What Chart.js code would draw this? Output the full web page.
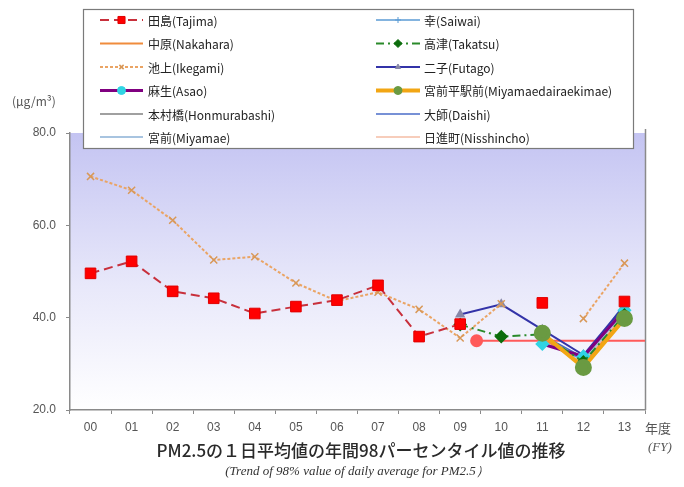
<!DOCTYPE html>
<html>
<head>
<meta charset="utf-8">
<script src="https://cdn.jsdelivr.net/npm/chart.js@4/dist/chart.umd.min.js"></script>
<style>
html,body{margin:0;padding:0;background:#fff}
canvas{display:block}
</style>
</head>
<body>
<canvas id="c" width="684" height="487"></canvas>
<script>
// Fiscal years (2000 - 2013)
const fiscalYears = ['00','01','02','03','04','05','06','07','08','09','10','11','12','13'];

// 98th percentile of daily PM2.5 average, µg/m3 (null = no measurement)
const tajima        = [49.6, 52.2, 45.7, 44.2, 40.9, 42.4, 43.8, 47.0, 35.9, 38.6, null, 43.2, null, 43.5];
const ikegami       = [70.6, 67.6, 61.1, 52.5, 53.2, 47.5, 43.6, 45.5, 41.8, 35.6, 43.0, null, 39.8, 51.8];
const futago        = [null, null, null, null, null, null, null, null, null, 40.7, 42.9, 37.4, 31.9, 42.6];
const takatsu       = [null, null, null, null, null, null, null, null, null, 38.5, 35.9, 36.4, 30.4, 40.6];
const miyamaedaira  = [null, null, null, null, null, null, null, null, null, null, null, 36.6, 29.2, 39.8];
const asao          = [null, null, null, null, null, null, null, null, null, null, null, 34.3, 31.6, 41.6];
const saiwai        = [null, null, null, null, null, null, null, null, null, null, null, 34.6, 31.0, 43.0];
const nakahara      = [null, null, null, null, null, null, null, null, null, null, null, 35.6, 29.8, 40.4];
const honmurabashi  = [null, null, null, null, null, null, null, null, null, null, null, 36.0, 31.2, 42.0];
const daishi        = [null, null, null, null, null, null, null, null, null, null, null, 36.2, 31.4, 42.6];
const miyamae       = [null, null, null, null, null, null, null, null, null, null, null, 35.8, 30.6, 41.4];
const nisshincho    = [null, null, null, null, null, null, null, null, null, null, null, 35.4, 30.2, 41.0];

// Environmental standard (35 µg/m3) and the fiscal-year position where the line begins
const envStandard = 35;
const envStandardFrom = 9.4;
const envStandardTo = 13.5;

// Value axis
const yMin = 20, yMax = 80, yStep = 20;

function series(label, data, style) {
  return Object.assign({
    label, data, xAxisID: 'x', yAxisID: 'y',
    spanGaps: false, fill: false, tension: 0,
    pointRadius: 0, pointHoverRadius: 0
  }, style);
}

const dsTajima = series('田島(Tajima)', tajima, {
  borderColor: '#c8303c', borderWidth: 2, borderDash: [9, 5],
  pointStyle: 'rect', pointRadius: 7.5, pointBackgroundColor: '#ff0000', pointBorderColor: '#e00000', pointBorderWidth: 1,
  legendRadius: 5, order: 0
});
const dsNakahara = series('中原(Nakahara)', nakahara, { borderColor: '#f08c3c', borderWidth: 2, order: 8 });
const dsIkegami = series('池上(Ikegami)', ikegami, {
  borderColor: '#eaa464', borderWidth: 2, borderDash: [3, 2],
  pointStyle: 'crossRot', pointRadius: 5, pointBorderColor: '#d89858', pointBorderWidth: 1.5,
  legendRadius: 3, order: 3
});
const dsAsao = series('麻生(Asao)', asao, {
  borderColor: '#800080', borderWidth: 3,
  pointStyle: 'rectRot', pointRadius: 5, pointBackgroundColor: '#30d4e4', pointBorderColor: '#30d4e4',
  legendStyle: 'circle', legendRadius: 4, order: 4
});
const dsHonmura = series('本村橋(Honmurabashi)', honmurabashi, { borderColor: '#a0a0a0', borderWidth: 2, order: 9 });
const dsMiyamae = series('宮前(Miyamae)', miyamae, { borderColor: '#a8c4e0', borderWidth: 2, order: 10 });
const dsSaiwai = series('幸(Saiwai)', saiwai, {
  borderColor: '#5b9bd5', borderWidth: 1.5,
  pointStyle: 'cross', pointRadius: 4, pointBorderColor: '#5b9bd5', pointBorderWidth: 1,
  legendRadius: 3, order: 6
});
const dsTakatsu = series('高津(Takatsu)', takatsu, {
  borderColor: '#2a8a2a', borderWidth: 2, borderDash: [8, 4, 2, 4],
  pointStyle: 'rectRot', pointRadius: 5.5, pointBackgroundColor: '#0c6c0c', pointBorderColor: '#0c6c0c',
  legendRadius: 4, order: 2
});
const dsFutago = series('二子(Futago)', futago, {
  borderColor: '#3333a8', borderWidth: 2,
  pointStyle: 'triangle', pointRadius: 4, pointBackgroundColor: '#8888a8', pointBorderColor: '#8888a8',
  legendRadius: 3, order: 5
});
const dsMiyamaedaira = series('宮前平駅前(Miyamaedairaekimae)', miyamaedaira, {
  borderColor: '#f2a614', borderWidth: 4,
  pointStyle: 'circle', pointRadius: 6.5, pointBackgroundColor: '#6a9a42', pointBorderColor: '#6a9a42',
  legendRadius: 4, order: 1
});
const dsDaishi = series('大師(Daishi)', daishi, { borderColor: '#4a6cc8', borderWidth: 1.5, order: 7 });
const dsNisshincho = series('日進町(Nisshincho)', nisshincho, { borderColor: '#f4bca4', borderWidth: 1.5, order: 11 });

const dsStandard = {
  label: 'standard',
  data: [{ x: envStandardFrom, y: envStandard }, { x: envStandardTo, y: envStandard }],
  xAxisID: 'x2', yAxisID: 'y',
  borderColor: '#ff5a5a', borderWidth: 2, fill: false,
  pointRadius: [5.5, 0], pointHoverRadius: 0,
  pointBackgroundColor: '#ff5a5a', pointBorderColor: '#ff5a5a',
  order: 12
};

const legendLeft  = [dsTajima, dsNakahara, dsIkegami, dsAsao, dsHonmura, dsMiyamae];
const legendRight = [dsSaiwai, dsTakatsu, dsFutago, dsMiyamaedaira, dsDaishi, dsNisshincho];

const JP = '"Noto Sans CJK JP", "Liberation Sans", sans-serif';
const SERIF = '"Liberation Serif", "DejaVu Serif", serif';

// Gradient background and right border of the plot area
const plotBackground = {
  id: 'plotBackground',
  beforeDraw(chart) {
    const { ctx, chartArea: a } = chart;
    const g = ctx.createLinearGradient(0, a.top, 0, a.bottom);
    g.addColorStop(0, 'rgb(196,196,242)');
    g.addColorStop(0.55, 'rgb(232,232,250)');
    g.addColorStop(1, 'rgb(255,255,255)');
    ctx.save();
    ctx.fillStyle = g;
    ctx.fillRect(a.left, a.top, a.right - a.left, a.bottom - a.top);
    ctx.strokeStyle = '#8a8a8a';
    ctx.lineWidth = 1.5;
    ctx.beginPath();
    ctx.moveTo(a.right + 0.5, a.top - 4);
    ctx.lineTo(a.right + 0.5, a.bottom);
    ctx.stroke();
    ctx.restore();
  }
};

// Two-column boxed legend
const boxedLegend = {
  id: 'boxedLegend',
  afterDraw(chart) {
    const { ctx } = chart;
    ctx.save();
    ctx.fillStyle = '#ffffff';
    ctx.fillRect(83, 9, 550, 139);
    ctx.strokeStyle = '#7a7a7a';
    ctx.lineWidth = 1.2;
    ctx.strokeRect(83.5, 9.5, 550, 139);
    const cols = [
      { items: legendLeft, x0: 100, x1: 143, tx: 148 },
      { items: legendRight, x0: 376, x1: 420, tx: 424 }
    ];
    const rowY = [20, 43.5, 67, 90.5, 114, 137];
    cols.forEach(col => {
      col.items.forEach((ds, i) => {
        const y = rowY[i];
        ctx.save();
        ctx.strokeStyle = ds.borderColor;
        ctx.lineWidth = ds.borderWidth;
        ctx.setLineDash(ds.borderDash || []);
        ctx.beginPath();
        ctx.moveTo(col.x0, y);
        ctx.lineTo(col.x1, y);
        ctx.stroke();
        ctx.setLineDash([]);
        if (ds.pointStyle && ds.legendRadius) {
          ctx.fillStyle = ds.pointBackgroundColor || ds.borderColor;
          ctx.strokeStyle = ds.pointBorderColor || ds.borderColor;
          ctx.lineWidth = ds.pointBorderWidth || 1;
          Chart.helpers.drawPoint(ctx, {
            pointStyle: ds.legendStyle || ds.pointStyle,
            radius: ds.legendRadius, rotation: 0,
            borderWidth: ds.pointBorderWidth || 1
          }, (col.x0 + col.x1) / 2, y);
        }
        ctx.restore();
        ctx.fillStyle = '#222';
        ctx.font = '12px ' + JP;
        ctx.textAlign = 'left';
        ctx.textBaseline = 'middle';
        ctx.fillText(ds.label, col.tx, y + 1);
      });
    });
    ctx.restore();
  }
};

// Unit label, fiscal year caption and chart titles
const captions = {
  id: 'captions',
  afterDraw(chart) {
    const { ctx } = chart;
    ctx.save();
    ctx.textBaseline = 'middle';
    ctx.fillStyle = '#555';
    ctx.font = '12px ' + JP;
    ctx.textAlign = 'left';
    ctx.fillText('(μg/m³)', 12, 101);
    ctx.font = '13px ' + JP;
    ctx.fillText('年度', 645, 428);
    ctx.font = 'italic 13px ' + SERIF;
    ctx.fillText('(FY)', 648, 448);
    ctx.textAlign = 'center';
    ctx.fillStyle = '#2a2a2a';
    ctx.font = '500 17px ' + JP;
    ctx.fillText('PM2.5の１日平均値の年間98パーセンタイル値の推移', 361, 451);
    ctx.fillStyle = '#333';
    ctx.font = 'italic 13px ' + SERIF;
    ctx.fillText('(Trend of 98% value of daily average for PM2.5）', 357, 472);
    ctx.restore();
  }
};

new Chart(document.getElementById('c'), {
  type: 'line',
  data: {
    labels: fiscalYears,
    datasets: [dsTajima, dsMiyamaedaira, dsTakatsu, dsIkegami, dsAsao, dsFutago, dsSaiwai,
               dsDaishi, dsNakahara, dsHonmura, dsMiyamae, dsNisshincho, dsStandard]
  },
  options: {
    responsive: false,
    animation: false,
    events: [],
    layout: { padding: { left: 0, top: 133, right: 39, bottom: 47 } },
    plugins: { legend: { display: false }, tooltip: { enabled: false }, title: { display: false } },
    scales: {
      x: {
        type: 'category',
        offset: true,
        grid: { drawOnChartArea: false, tickLength: 4, color: '#8a8a8a', offset: true },
        border: { color: '#8a8a8a', width: 1.5 },
        ticks: { color: '#555', font: { family: '"Liberation Sans", sans-serif', size: 12 }, padding: 6, maxRotation: 0, autoSkip: false },
        afterFit(axis) { axis.height = 30; }
      },
      x2: {
        type: 'linear', display: false, min: -0.5, max: 13.5
      },
      y: {
        min: yMin, max: yMax,
        grid: { drawOnChartArea: false, tickLength: 4, color: '#8a8a8a' },
        border: { color: '#8a8a8a', width: 1.5 },
        ticks: {
          stepSize: yStep, color: '#555', padding: 10,
          font: { family: '"Liberation Sans", sans-serif', size: 12 },
          callback: v => Number(v).toFixed(1)
        },
        afterFit(axis) { axis.width = 70; }
      }
    }
  },
  plugins: [plotBackground, boxedLegend, captions]
});
</script>
</body>
</html>
